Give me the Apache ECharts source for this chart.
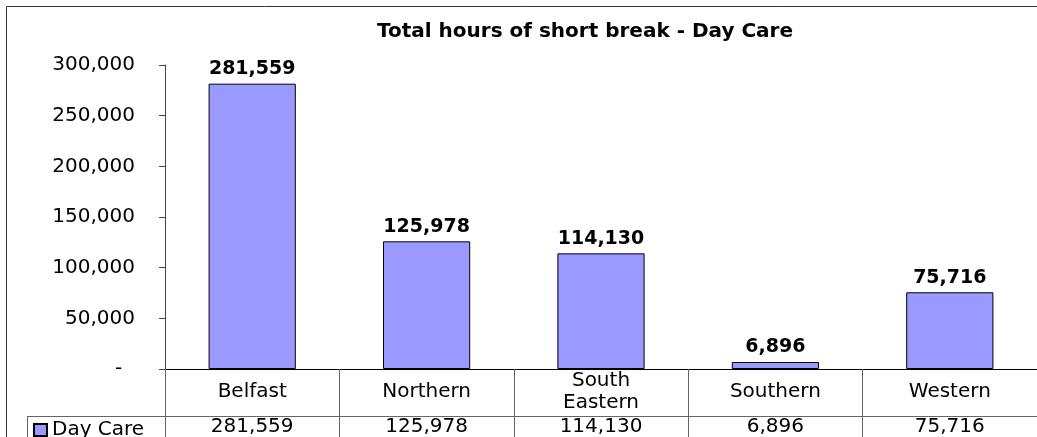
<!DOCTYPE html>
<html>
<head>
<meta charset="utf-8">
<title>Total hours of short break - Day Care</title>
<script src="https://cdn.jsdelivr.net/npm/echarts@6/dist/echarts.min.js"></script>
<style>
  html, body { margin: 0; padding: 0; background: #fff; }
  #main { width: 1037px; height: 437px; }
</style>
</head>
<body>
<div id="main"></div>
<script>
// data
var regions = ['Belfast', 'Northern', 'South\nEastern', 'Southern', 'Western'];
var dayCare = [281559, 125978, 114130, 6896, 75716];
var yTicks = [0, 50000, 100000, 150000, 200000, 250000, 300000];

var font = 'DejaVu Sans';

function fmt(v) {
  return Number(v).toLocaleString('en-US');
}

var chart = echarts.init(document.getElementById('main'));

var option = {
  animation: false,
  backgroundColor: '#fff',
  title: {
    text: 'Total hours of short break - Day Care',
    left: 585,
    textAlign: 'center',
    top: 22,
    padding: 0,
    textStyle: { fontFamily: font, fontSize: 20, fontWeight: 'bold', color: '#000' }
  },
  legend: {
    left: 33,
    top: 420,
    padding: 0,
    itemWidth: 13,
    itemHeight: 12,
    selectedMode: false,
    icon: 'rect',
    textStyle: { fontFamily: font, fontSize: 20, color: '#000' },
    data: ['Day Care']
  },
  grid: { left: 165, right: 0, top: 65, bottom: 68, containLabel: false },
  xAxis: [
    {
      type: 'category',
      data: regions,
      position: 'bottom',
      axisLine: { show: true, lineStyle: { color: '#000', width: 1 } },
      axisTick: { show: true, interval: 0, length: 47, lineStyle: { color: '#666' } },
      axisLabel: {
        interval: 0, margin: 23, verticalAlign: 'middle', lineHeight: 22,
        fontFamily: font, fontSize: 20, color: '#000'
      }
    },
    {
      type: 'category',
      data: dayCare.map(fmt),
      position: 'bottom',
      offset: 47,
      axisLine: { show: true, lineStyle: { color: '#666', width: 1 } },
      axisTick: { show: true, interval: 0, length: 21, lineStyle: { color: '#666' } },
      axisLabel: {
        interval: 0, margin: 11, verticalAlign: 'middle',
        fontFamily: font, fontSize: 20, color: '#000'
      }
    }
  ],
  yAxis: {
    type: 'value',
    min: yTicks[0],
    max: yTicks[yTicks.length - 1],
    interval: yTicks[1] - yTicks[0],
    splitLine: { show: false },
    axisLine: { show: true, lineStyle: { color: '#444' } },
    axisTick: { show: true, length: 6, lineStyle: { color: '#444' } },
    axisLabel: {
      margin: 30,
      fontFamily: font, fontSize: 20, color: '#000',
      formatter: function (v) { return v === 0 ? '-  ' : fmt(v); }
    }
  },
  series: [
    {
      name: 'Day Care',
      type: 'bar',
      xAxisIndex: 0,
      data: dayCare,
      barWidth: '50%',
      itemStyle: { color: '#9999ff', borderColor: '#000', borderWidth: 1 },
      label: {
        show: true,
        position: 'top',
        distance: 5,
        fontFamily: font, fontSize: 19, fontWeight: 'bold', color: '#000',
        formatter: function (p) { return fmt(p.value); }
      }
    }
  ],
  graphic: [
    // outer chart border (right/bottom run off the picture)
    { type: 'rect', shape: { x: 6.5, y: 6.5, width: 1100, height: 500 },
      style: { fill: 'none', stroke: '#333', lineWidth: 1 }, silent: true },
    // legend cell of the data table
    { type: 'line', shape: { x1: 27, y1: 416.5, x2: 165, y2: 416.5 },
      style: { stroke: '#666', lineWidth: 1 }, silent: true },
    { type: 'line', shape: { x1: 27.5, y1: 416, x2: 27.5, y2: 440 },
      style: { stroke: '#666', lineWidth: 1 }, silent: true }
  ]
};

chart.setOption(option);
</script>
</body>
</html>
